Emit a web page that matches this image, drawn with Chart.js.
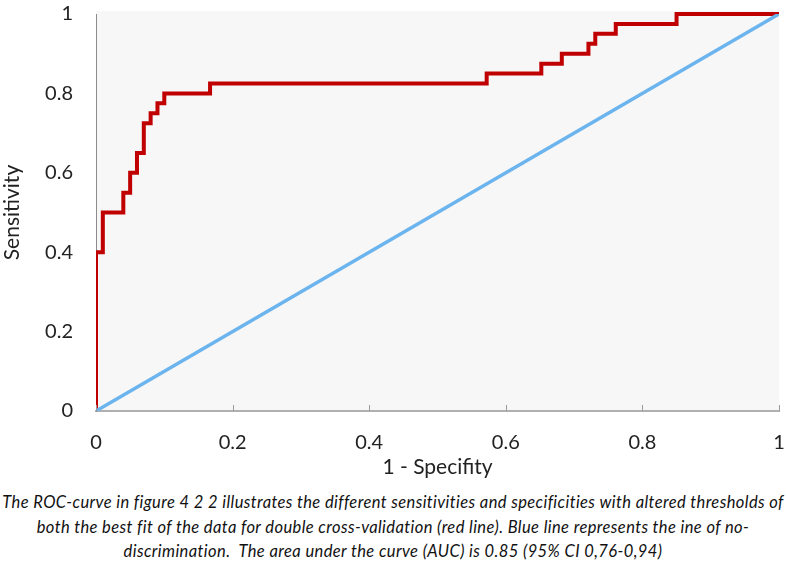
<!DOCTYPE html>
<html>
<head>
<meta charset="utf-8">
<script src="https://cdn.jsdelivr.net/npm/chart.js@4.4.1/dist/chart.umd.min.js"></script>
<style>
  html, body { margin: 0; padding: 0; background: #fff; }
  #wrap { width: 786px; height: 480px; position: relative; }
  #caption {
    width: 786px; text-align: center; font-family: Lato, sans-serif; font-style: italic;
    font-size: 16.5px; letter-spacing: 0.4px; line-height: 24.5px; color: #111; margin-top: 10px;
  }
</style>
</head>
<body>
<div id="wrap"><canvas id="roc" width="786" height="480"></canvas></div>
<div id="caption">The ROC-curve in figure 4 2 2 illustrates the different sensitivities and specificities with altered thresholds of<br>both the best fit of the data for double cross-validation (red line). Blue line represents the ine of no-<br>discrimination.&nbsp; The area under the curve (AUC) is 0.85 (95% CI 0,76-0,94)</div>
<script>
// ROC curve corners (1 - specificity, sensitivity)
var fpr = [0, 0, 0.01, 0.04, 0.05, 0.06, 0.07, 0.08, 0.09, 0.10, 0.167, 0.572, 0.652, 0.682, 0.721, 0.731, 0.761, 0.85, 1];
var tpr = [0, 0.4, 0.5, 0.55, 0.6, 0.65, 0.725, 0.75, 0.775, 0.8, 0.825, 0.85, 0.875, 0.9, 0.925, 0.95, 0.975, 1, 1];
// line of no-discrimination
var diagX = [0, 1];
var diagY = [0, 1];
var tickValues = [0, 0.2, 0.4, 0.6, 0.8, 1];

function pts(xs, ys) {
  return xs.map(function (x, i) { return { x: x, y: ys[i] }; });
}

// grey plot area background + inward x ticks
var plotBg = {
  id: 'plotBg',
  beforeDraw: function (chart) {
    var a = chart.chartArea, c = chart.ctx;
    c.save();
    c.fillStyle = '#f7f7f7';
    c.fillRect(a.left, a.top - 3, a.right - a.left, a.bottom - a.top + 3);
    c.restore();
  },
  afterDatasetsDraw: function (chart) {
    var a = chart.chartArea, c = chart.ctx, xs = chart.scales.x;
    c.save();
    c.strokeStyle = '#9a9a9a';
    c.lineWidth = 1;
    tickValues.forEach(function (v) {
      var px = Math.round(xs.getPixelForValue(v)) + 0.5;
      c.beginPath();
      c.moveTo(px, a.bottom);
      c.lineTo(px, a.bottom - 6);
      c.stroke();
    });
    c.restore();
  }
};

new Chart(document.getElementById('roc'), {
  type: 'scatter',
  data: {
    datasets: [
      {
        label: 'No discrimination',
        data: pts(diagX, diagY),
        showLine: true,
        borderColor: '#6cb4ee',
        borderWidth: 3.5,
        pointRadius: 0,
        fill: false
      },
      {
        label: 'ROC',
        data: pts(fpr, tpr),
        showLine: true,
        stepped: 'before',
        borderColor: '#c00000',
        borderWidth: 4,
        pointRadius: 0,
        fill: false,
        clip: { left: 0, top: 5, right: 5, bottom: 5 }
      }
    ]
  },
  options: {
    responsive: false,
    animation: false,
    layout: { padding: { top: 14, right: 7, left: 0, bottom: 0 } },
    plugins: { legend: { display: false }, tooltip: { enabled: false } },
    scales: {
      x: {
        type: 'linear', min: 0, max: 1,
        afterBuildTicks: function (s) { s.ticks = tickValues.map(function (v) { return { value: v }; }); },
        afterFit: function (s) { s.height = 69; s.paddingLeft = 0; s.paddingRight = 0; },
        grid: { display: true, drawOnChartArea: false, drawTicks: false },
        border: { display: true, color: '#b0b0b0', width: 2 },
        ticks: { padding: 20, color: '#222', font: { family: 'Lato', size: 20 },
          callback: function (v) { return String(v); } },
        title: { display: true, text: '1 - Specifity', color: '#222',
          font: { family: 'Lato', size: 21 }, padding: { top: 2, bottom: 0 } }
      },
      y: {
        type: 'linear', min: 0, max: 1,
        afterBuildTicks: function (s) { s.ticks = tickValues.map(function (v) { return { value: v }; }); },
        afterFit: function (s) { s.width = 96; s.paddingTop = 0; s.paddingBottom = 0; },
        grid: { display: false, drawTicks: false },
        border: { display: true, color: '#8c8c8c', width: 1 },
        ticks: { padding: 23, color: '#222', font: { family: 'Lato', size: 20 },
          callback: function (v) { return String(v); } },
        title: { display: true, text: 'Sensitivity', color: '#222',
          font: { family: 'Lato', size: 21 }, padding: 0 }
      }
    }
  },
  plugins: [plotBg]
});
</script>
</body>
</html>
